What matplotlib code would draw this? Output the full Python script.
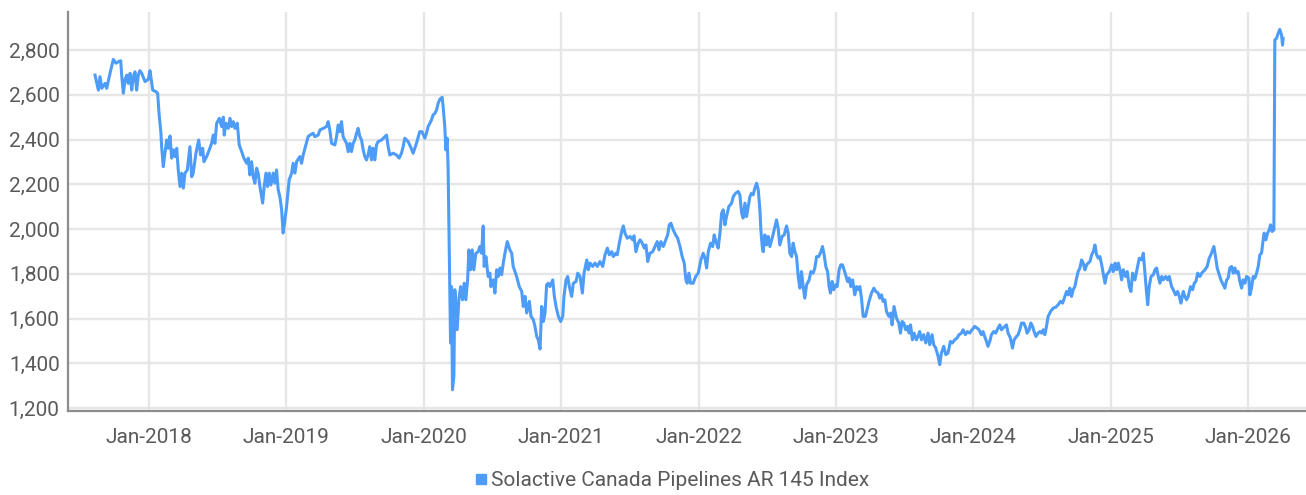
import matplotlib
matplotlib.use("Agg")
import matplotlib.pyplot as plt
import matplotlib.dates as mdates
from matplotlib.lines import Line2D
from matplotlib.ticker import FuncFormatter
from datetime import datetime

# (decimal year, index level)
pts_2017 = [
    (2017.607, 2688), (2017.631, 2621), (2017.643, 2681), (2017.656, 2629), (2017.680, 2651),
    (2017.692, 2629), (2017.716, 2696), (2017.740, 2758), (2017.760, 2741), (2017.777, 2748),
    (2017.794, 2752), (2017.801, 2688), (2017.813, 2607), (2017.825, 2666), (2017.838, 2688),
    (2017.849, 2651), (2017.862, 2696), (2017.874, 2621), (2017.886, 2681), (2017.898, 2703),
    (2017.910, 2621), (2017.922, 2688), (2017.934, 2708), (2017.947, 2696), (2017.971, 2659),
    (2017.995, 2669),
]
pts_2018 = [
    (2018.007, 2708), (2018.027, 2621), (2018.051, 2614), (2018.063, 2607), (2018.073, 2517),
    (2018.087, 2428), (2018.092, 2368), (2018.104, 2279), (2018.116, 2339), (2018.129, 2398),
    (2018.140, 2361), (2018.153, 2416), (2018.165, 2317), (2018.177, 2354), (2018.189, 2324),
    (2018.202, 2361), (2018.213, 2264), (2018.226, 2190), (2018.238, 2250), (2018.250, 2183),
    (2018.262, 2250), (2018.279, 2264), (2018.298, 2368), (2018.311, 2234), (2018.322, 2250),
    (2018.342, 2339), (2018.362, 2398), (2018.376, 2331), (2018.391, 2361), (2018.400, 2301),
    (2018.420, 2324), (2018.439, 2354), (2018.456, 2383), (2018.468, 2420), (2018.480, 2383),
    (2018.493, 2473), (2018.512, 2495), (2018.529, 2458), (2018.541, 2500), (2018.548, 2420),
    (2018.560, 2473), (2018.577, 2450), (2018.590, 2495), (2018.602, 2458), (2018.614, 2480),
    (2018.626, 2450), (2018.643, 2473), (2018.657, 2376), (2018.675, 2346), (2018.691, 2317),
    (2018.711, 2294), (2018.723, 2317), (2018.735, 2242), (2018.747, 2301), (2018.759, 2234),
    (2018.771, 2205), (2018.784, 2272), (2018.795, 2250), (2018.808, 2190), (2018.828, 2116),
    (2018.839, 2190), (2018.852, 2250), (2018.864, 2190), (2018.876, 2250), (2018.888, 2197),
    (2018.905, 2250), (2018.917, 2205), (2018.929, 2264), (2018.941, 2175), (2018.953, 2145),
    (2018.966, 2086), (2018.977, 1982), (2018.990, 2041),
]
pts_2019 = [
    (2019.002, 2101), (2019.021, 2220), (2019.039, 2250), (2019.050, 2294), (2019.063, 2250),
    (2019.075, 2301), (2019.099, 2324), (2019.111, 2294), (2019.123, 2331), (2019.143, 2376),
    (2019.159, 2413), (2019.172, 2420), (2019.196, 2428), (2019.208, 2413), (2019.232, 2420),
    (2019.245, 2443), (2019.269, 2450), (2019.293, 2458), (2019.305, 2480), (2019.317, 2443),
    (2019.330, 2383), (2019.354, 2376), (2019.366, 2413), (2019.378, 2465), (2019.390, 2435),
    (2019.402, 2480), (2019.414, 2413), (2019.426, 2398), (2019.439, 2383), (2019.451, 2346),
    (2019.463, 2383), (2019.475, 2346), (2019.487, 2383), (2019.499, 2398), (2019.512, 2428),
    (2019.523, 2450), (2019.536, 2413), (2019.548, 2398), (2019.560, 2354), (2019.572, 2324),
    (2019.584, 2309), (2019.596, 2331), (2019.608, 2368), (2019.621, 2309), (2019.632, 2361),
    (2019.645, 2309), (2019.657, 2376), (2019.669, 2391), (2019.694, 2398), (2019.718, 2413),
    (2019.730, 2420), (2019.742, 2368), (2019.754, 2331), (2019.778, 2339), (2019.803, 2331),
    (2019.822, 2317), (2019.839, 2339), (2019.851, 2368), (2019.863, 2406), (2019.887, 2391),
    (2019.905, 2368), (2019.924, 2339), (2019.948, 2383), (2019.972, 2435), (2019.989, 2435),
]
pts_2020 = [
    (2020.009, 2406), (2020.021, 2428), (2020.033, 2458), (2020.057, 2487), (2020.069, 2510),
    (2020.082, 2517), (2020.094, 2532), (2020.106, 2562), (2020.118, 2580), (2020.135, 2589),
    (2020.142, 2547), (2020.154, 2458), (2020.162, 2354), (2020.171, 2406), (2020.178, 2279),
    (2020.186, 1937), (2020.196, 1491), (2020.203, 1743), (2020.210, 1282), (2020.220, 1342),
    (2020.227, 1729), (2020.244, 1550), (2020.256, 1684), (2020.269, 1743), (2020.283, 1684),
    (2020.295, 1758), (2020.307, 1684), (2020.320, 1773), (2020.329, 1907), (2020.341, 1818),
    (2020.353, 1907), (2020.365, 1818), (2020.380, 1892), (2020.397, 1899), (2020.409, 1922),
    (2020.421, 1892), (2020.433, 2014), (2020.440, 1833), (2020.453, 1877), (2020.469, 1788),
    (2020.482, 1803), (2020.489, 1743), (2020.506, 1773), (2020.518, 1714), (2020.531, 1818),
    (2020.542, 1788), (2020.555, 1826), (2020.567, 1796), (2020.579, 1848), (2020.591, 1892),
    (2020.608, 1944), (2020.627, 1907), (2020.640, 1892), (2020.651, 1833), (2020.676, 1788),
    (2020.695, 1743), (2020.713, 1721), (2020.724, 1654), (2020.737, 1699), (2020.749, 1625),
    (2020.768, 1677), (2020.780, 1610), (2020.797, 1595), (2020.809, 1565), (2020.822, 1520),
    (2020.833, 1505), (2020.846, 1464), (2020.858, 1654), (2020.870, 1587), (2020.882, 1625),
    (2020.894, 1751), (2020.906, 1758), (2020.918, 1743), (2020.938, 1773), (2020.950, 1699),
    (2020.962, 1654), (2020.979, 1610), (2020.996, 1587),
]
pts_2021 = [
    (2021.011, 1610), (2021.020, 1699), (2021.035, 1773), (2021.047, 1788), (2021.059, 1743),
    (2021.076, 1699), (2021.088, 1758), (2021.108, 1766), (2021.120, 1803), (2021.137, 1788),
    (2021.154, 1714), (2021.166, 1803), (2021.186, 1862), (2021.197, 1818), (2021.210, 1848),
    (2021.229, 1833), (2021.246, 1848), (2021.263, 1833), (2021.282, 1855), (2021.302, 1833),
    (2021.319, 1885), (2021.336, 1915), (2021.350, 1885), (2021.368, 1899), (2021.379, 1877),
    (2021.397, 1892), (2021.408, 1885), (2021.423, 1937), (2021.440, 1989), (2021.452, 2014),
    (2021.464, 1982), (2021.481, 1959), (2021.501, 1967), (2021.520, 1952), (2021.530, 1970),
    (2021.544, 1899), (2021.561, 1937), (2021.574, 1952), (2021.590, 1937), (2021.605, 1915),
    (2021.617, 1929), (2021.630, 1855), (2021.646, 1892), (2021.666, 1899), (2021.683, 1922),
    (2021.699, 1944), (2021.712, 1907), (2021.726, 1944), (2021.743, 1922), (2021.761, 1952),
    (2021.775, 1974), (2021.787, 2019), (2021.799, 2026), (2021.816, 1996), (2021.833, 1974),
    (2021.848, 1959), (2021.865, 1922), (2021.881, 1877), (2021.896, 1848), (2021.908, 1773),
    (2021.918, 1758), (2021.930, 1803), (2021.942, 1758), (2021.961, 1758), (2021.979, 1788),
    (2021.998, 1803),
]
pts_2022 = [
    (2022.017, 1862), (2022.034, 1892), (2022.047, 1870), (2022.059, 1826), (2022.071, 1899),
    (2022.088, 1937), (2022.103, 1922), (2022.114, 1974), (2022.127, 1944), (2022.143, 1915),
    (2022.156, 1982), (2022.168, 2071), (2022.180, 2086), (2022.192, 2019), (2022.204, 2056),
    (2022.221, 2101), (2022.241, 2116), (2022.253, 2145), (2022.270, 2160), (2022.289, 2168),
    (2022.301, 2153), (2022.314, 2071), (2022.325, 2049), (2022.338, 2116), (2022.350, 2056),
    (2022.362, 2101), (2022.374, 2145), (2022.386, 2160), (2022.398, 2153), (2022.410, 2183),
    (2022.423, 2205), (2022.435, 2175), (2022.447, 2086), (2022.454, 1996), (2022.464, 1922),
    (2022.471, 1899), (2022.483, 1974), (2022.496, 1929), (2022.507, 1967), (2022.520, 1922),
    (2022.536, 1959), (2022.551, 1996), (2022.568, 2041), (2022.580, 2004), (2022.592, 1929),
    (2022.609, 1967), (2022.624, 1974), (2022.641, 2014), (2022.653, 1982), (2022.665, 1892),
    (2022.678, 1877), (2022.689, 1937), (2022.702, 1899), (2022.714, 1877), (2022.726, 1788),
    (2022.738, 1736), (2022.750, 1810), (2022.762, 1743), (2022.774, 1691), (2022.787, 1751),
    (2022.806, 1773), (2022.818, 1810), (2022.835, 1803), (2022.847, 1826), (2022.860, 1877),
    (2022.876, 1877), (2022.891, 1899), (2022.903, 1922), (2022.915, 1885), (2022.927, 1833),
    (2022.940, 1810), (2022.951, 1743), (2022.961, 1714), (2022.973, 1766), (2022.985, 1729),
    (2022.998, 1751),
]
pts_2023 = [
    (2023.010, 1743), (2023.024, 1818), (2023.036, 1840), (2023.049, 1840), (2023.060, 1818),
    (2023.071, 1796), (2023.085, 1766), (2023.097, 1781), (2023.109, 1743), (2023.122, 1773),
    (2023.138, 1706), (2023.151, 1743), (2023.162, 1729), (2023.175, 1743), (2023.187, 1691),
    (2023.199, 1610), (2023.216, 1610), (2023.228, 1640), (2023.242, 1677), (2023.260, 1714),
    (2023.277, 1736), (2023.291, 1721), (2023.308, 1714), (2023.320, 1691), (2023.333, 1706),
    (2023.344, 1677), (2023.357, 1684), (2023.369, 1632), (2023.386, 1610), (2023.400, 1625),
    (2023.410, 1572), (2023.424, 1654), (2023.442, 1602), (2023.459, 1580), (2023.471, 1535),
    (2023.483, 1587), (2023.495, 1580), (2023.509, 1550), (2023.522, 1565), (2023.534, 1535),
    (2023.544, 1572), (2023.558, 1505), (2023.570, 1535), (2023.587, 1505), (2023.599, 1520),
    (2023.611, 1542), (2023.624, 1505), (2023.640, 1528), (2023.655, 1491), (2023.672, 1535),
    (2023.684, 1483), (2023.701, 1528), (2023.713, 1483), (2023.728, 1468), (2023.745, 1431),
    (2023.757, 1394), (2023.769, 1446), (2023.786, 1476), (2023.801, 1439), (2023.817, 1446),
    (2023.835, 1498), (2023.849, 1491), (2023.866, 1505), (2023.883, 1513), (2023.897, 1528),
    (2023.915, 1535), (2023.927, 1550), (2023.944, 1528), (2023.958, 1542), (2023.975, 1535),
    (2023.992, 1550),
]
pts_2024 = [
    (2024.012, 1565), (2024.028, 1558), (2024.043, 1550), (2024.060, 1528), (2024.072, 1542),
    (2024.084, 1520), (2024.097, 1498), (2024.108, 1476), (2024.121, 1498), (2024.133, 1528),
    (2024.150, 1542), (2024.164, 1535), (2024.181, 1558), (2024.194, 1572), (2024.206, 1550),
    (2024.218, 1558), (2024.230, 1565), (2024.242, 1572), (2024.254, 1535), (2024.271, 1513),
    (2024.286, 1468), (2024.298, 1505), (2024.315, 1520), (2024.327, 1528), (2024.339, 1550),
    (2024.352, 1580), (2024.368, 1580), (2024.383, 1558), (2024.392, 1535), (2024.407, 1550),
    (2024.419, 1580), (2024.432, 1565), (2024.443, 1542), (2024.456, 1520), (2024.472, 1535),
    (2024.485, 1542), (2024.497, 1535), (2024.509, 1550), (2024.521, 1528), (2024.533, 1565),
    (2024.545, 1610), (2024.563, 1632), (2024.582, 1647), (2024.601, 1651), (2024.618, 1662),
    (2024.635, 1677), (2024.650, 1669), (2024.662, 1691), (2024.679, 1721), (2024.691, 1706),
    (2024.703, 1736), (2024.715, 1699), (2024.727, 1729), (2024.739, 1743), (2024.752, 1781),
    (2024.763, 1810), (2024.776, 1826), (2024.788, 1862), (2024.800, 1848), (2024.812, 1818),
    (2024.825, 1840), (2024.836, 1848), (2024.849, 1855), (2024.861, 1885), (2024.873, 1899),
    (2024.885, 1929), (2024.897, 1885), (2024.909, 1870), (2024.921, 1877), (2024.934, 1840),
    (2024.945, 1803), (2024.958, 1758), (2024.970, 1796), (2024.989, 1810),
]
pts_2025 = [
    (2025.006, 1840), (2025.018, 1810), (2025.031, 1848), (2025.043, 1818), (2025.055, 1848),
    (2025.067, 1818), (2025.079, 1773), (2025.091, 1818), (2025.108, 1788), (2025.120, 1810),
    (2025.135, 1743), (2025.147, 1721), (2025.159, 1803), (2025.176, 1773), (2025.193, 1826),
    (2025.208, 1870), (2025.225, 1862), (2025.237, 1892), (2025.249, 1803), (2025.261, 1714),
    (2025.269, 1662), (2025.280, 1743), (2025.293, 1788), (2025.310, 1796), (2025.322, 1818),
    (2025.334, 1826), (2025.346, 1788), (2025.358, 1758), (2025.371, 1788), (2025.382, 1773),
    (2025.400, 1788), (2025.414, 1773), (2025.426, 1788), (2025.443, 1743), (2025.455, 1729),
    (2025.472, 1706), (2025.487, 1721), (2025.499, 1699), (2025.511, 1669), (2025.528, 1721),
    (2025.540, 1699), (2025.552, 1684), (2025.564, 1699), (2025.581, 1743), (2025.596, 1729),
    (2025.608, 1758), (2025.620, 1766), (2025.633, 1803), (2025.649, 1788), (2025.662, 1803),
    (2025.673, 1810), (2025.686, 1818), (2025.702, 1833), (2025.717, 1870), (2025.729, 1885),
    (2025.742, 1907), (2025.751, 1922), (2025.763, 1877), (2025.775, 1826), (2025.790, 1796),
    (2025.802, 1773), (2025.814, 1758), (2025.831, 1736), (2025.844, 1773), (2025.855, 1781),
    (2025.867, 1826), (2025.880, 1833), (2025.892, 1803), (2025.904, 1826), (2025.916, 1803),
    (2025.928, 1810), (2025.940, 1766), (2025.953, 1736), (2025.964, 1773), (2025.977, 1758),
    (2025.989, 1788),
]
pts_2026 = [
    (2026.006, 1781), (2026.013, 1706), (2026.025, 1736), (2026.037, 1788), (2026.050, 1781),
    (2026.062, 1803), (2026.074, 1833), (2026.086, 1885), (2026.098, 1892), (2026.110, 1952),
    (2026.117, 1982), (2026.130, 1952), (2026.142, 1982), (2026.154, 1996), (2026.164, 2019),
    (2026.175, 1989), (2026.188, 1996), (2026.195, 2845), (2026.207, 2852), (2026.219, 2874),
    (2026.231, 2892), (2026.244, 2867), (2026.251, 2822), (2026.255, 2852),
]

y_ticks = [1200, 1400, 1600, 1800, 2000, 2200, 2400, 2600, 2800]
x_tick_years = list(range(2018, 2027))
series_name = "Solactive Canada Pipelines AR 145 Index"

LINE = "#4d9cf8"
GRID = "#e6e6e6"
TEXT = "#5a5a5a"


def to_date(y):
    yr = int(y)
    start = datetime(yr, 1, 1)
    return start + (datetime(yr + 1, 1, 1) - start) * (y - yr)


pts = pts_2017 + pts_2018 + pts_2019 + pts_2020 + pts_2021 + pts_2022 + pts_2023 + pts_2024 + pts_2025 + pts_2026
dates = [to_date(t) for t, v in pts]
levels = [v for t, v in pts]

plt.rcParams["font.family"] = ["Roboto", "DejaVu Sans"]

fig = plt.figure(figsize=(13.06, 4.95), dpi=100)
ax = fig.add_axes([68 / 1306, 1 - 411 / 495, 1 - 68 / 1306, (411 - 12) / 495])

ax.plot(dates, levels, color=LINE, linewidth=2.2, solid_joinstyle="round")

ax.set_ylim(1187, 2970)
ax.set_xlim(to_date(2017.41), to_date(2026.422))
ax.set_yticks(y_ticks)
ax.yaxis.set_major_formatter(FuncFormatter(lambda v, p: f"{int(v):,}"))
ax.set_xticks([datetime(y, 1, 1) for y in x_tick_years])
ax.xaxis.set_major_formatter(mdates.DateFormatter("%b-%Y"))

ax.grid(True, color=GRID, linewidth=1.7)
ax.set_axisbelow(True)
for s in ["top", "right"]:
    ax.spines[s].set_visible(False)
ax.spines["left"].set_color("#8c8c8c")
ax.spines["left"].set_linewidth(1.6)
ax.spines["bottom"].set_color("#8c8c8c")
ax.spines["bottom"].set_linewidth(1.6)
ax.tick_params(axis="both", length=0, labelsize=15, labelcolor=TEXT)
ax.tick_params(axis="x", pad=12)
ax.tick_params(axis="y", pad=6)

handle = Line2D([], [], marker="s", linestyle="none", color=LINE, markersize=7)
fig.legend([handle], [series_name], loc="center", bbox_to_anchor=(671 / 1306, 1 - 481 / 495),
           frameon=False, fontsize=15, labelcolor=TEXT, handletextpad=0.1, handlelength=0.8)

fig.savefig("out.png", dpi=100)
